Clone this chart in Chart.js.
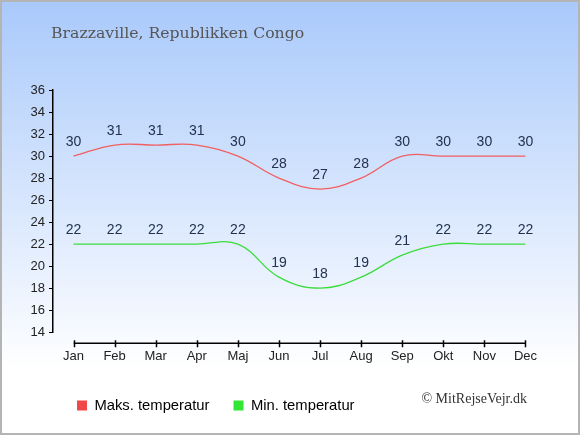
<!DOCTYPE html>
<html>
<head>
<meta charset="utf-8">
<script src="https://cdn.jsdelivr.net/npm/chart.js@4"></script>
<style>
  body { margin: 0; }
  #wrap { width: 580px; height: 435px; }
</style>
</head>
<body>
<div id="wrap"><canvas id="myChart" width="580" height="435"></canvas></div>
<script>
var months = ['Jan','Feb','Mar','Apr','Maj','Jun','Jul','Aug','Sep','Okt','Nov','Dec'];
var maksTemp = [30,31,31,31,30,28,27,28,30,30,30,30];
var minTemp = [22,22,22,22,22,19,18,19,21,22,22,22];
var yTicks = [14,16,18,20,22,24,26,28,30,32,34,36];
var title = 'Brazzaville, Republikken Congo';
var copyright = '\u00A9 MitRejseVejr.dk';

// background, frame, title, credit
var bgPlugin = {
  id: 'bg',
  beforeDraw(chart) {
    var c = chart.ctx, w = chart.width, h = chart.height;
    var g = c.createLinearGradient(0, 0, 0, h);
    g.addColorStop(0, '#a9c9fb');
    g.addColorStop(0.85, '#ffffff');
    g.addColorStop(1, '#ffffff');
    c.save();
    c.fillStyle = g;
    c.fillRect(0, 0, w, h);
    c.strokeStyle = '#b4b4b4';
    c.lineWidth = 2;
    c.strokeRect(1, 1, w - 2, h - 2);
    c.fillStyle = '#555555';
    c.font = '15.7px "DejaVu Serif"';
    c.textBaseline = 'alphabetic';
    c.fillText(title, 51, 38);
    c.fillStyle = '#333333';
    c.font = '14px "Liberation Serif"';
    c.textAlign = 'right';
    c.fillText(copyright, 527, 403);
    c.restore();
  }
};

// x axis line + ticks, and value labels
var axisPlugin = {
  id: 'axisx',
  afterDatasetsDraw(chart) {
    var c = chart.ctx, xs = chart.scales.x, ys = chart.scales.y;
    var yLine = ys.bottom + 11;
    c.save();
    c.strokeStyle = '#000';
    c.lineWidth = 1.5;
    c.beginPath();
    c.moveTo(xs.getPixelForValue(0), yLine);
    c.lineTo(xs.getPixelForValue(months.length - 1), yLine);
    for (var i = 0; i < months.length; i++) {
      var px = Math.round(xs.getPixelForValue(i)) + 0.5;
      c.moveTo(px, yLine - 3);
      c.lineTo(px, yLine + 4);
    }
    c.stroke();
    c.fillStyle = '#22324f';
    c.font = '14px "Liberation Sans"';
    c.textAlign = 'center';
    c.textBaseline = 'middle';
    chart.data.datasets.forEach(function(ds, di) {
      var meta = chart.getDatasetMeta(di);
      meta.data.forEach(function(pt, i) {
        c.fillText(ds.data[i], pt.x, pt.y - 14);
      });
    });
    c.restore();
  }
};

const ctx = document.getElementById('myChart');
new Chart(ctx, {
  type: 'line',
  data: {
    labels: months,
    datasets: [{
      label: 'Maks. temperatur',
      data: maksTemp,
      borderColor: '#f06060',
      backgroundColor: '#f04848',
      borderWidth: 1.3,
      pointRadius: 0,
      tension: 0.4
    }, {
      label: 'Min. temperatur',
      data: minTemp,
      borderColor: '#3cdc3c',
      backgroundColor: '#33e633',
      borderWidth: 1.3,
      pointRadius: 0,
      tension: 0.4
    }]
  },
  options: {
    responsive: false,
    animation: false,
    layout: { padding: { left: 0, right: 34, top: 90, bottom: 12 } },
    scales: {
      x: {
        offset: true,
        grid: { display: true, drawOnChartArea: false, drawTicks: false },
        border: { display: false },
        ticks: { color: '#222', font: { family: 'Liberation Sans', size: 13 }, padding: 16, maxRotation: 0 },
        afterFit: function(s) { s.height = 42; }
      },
      y: {
        min: 14, max: 36,
        afterBuildTicks: function(s) { s.ticks = yTicks.map(function(v) { return { value: v }; }); },
        grid: { drawOnChartArea: false, color: '#000', tickLength: 4 },
        border: { color: '#000', width: 1.5 },
        ticks: { color: '#222', font: { family: 'Liberation Sans', size: 13 }, padding: 4 },
        afterFit: function(s) { s.width = 53; }
      }
    },
    plugins: {
      legend: {
        position: 'bottom',
        align: 'start',
        fullSize: false,
        labels: {
          boxWidth: 10, boxHeight: 10, padding: 24,
          color: '#222',
          font: { family: 'Liberation Sans', size: 14.8 },
          generateLabels: function(chart) {
            return chart.data.datasets.map(function(ds, i) {
              return { text: ds.label, fillStyle: ds.backgroundColor, strokeStyle: ds.backgroundColor, lineWidth: 0, datasetIndex: i };
            });
          }
        }
      },
      tooltip: { enabled: false }
    }
  },
  plugins: [bgPlugin, axisPlugin]
});
</script>
</body>
</html>
